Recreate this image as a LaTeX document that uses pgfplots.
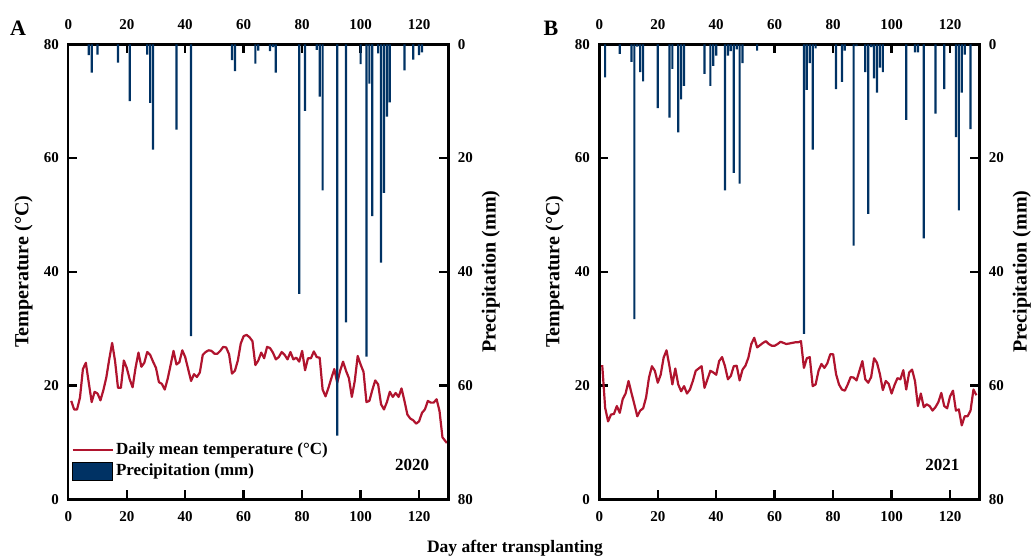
\documentclass[border=0pt]{standalone}
\usepackage{fontspec}
\setmainfont{Liberation Serif}
\usepackage{pgfplots}
\pgfplotsset{compat=1.18}
\usepackage{pgfplotstable}

\definecolor{tred}{RGB}{176,20,46}
\definecolor{pblue}{RGB}{0,50,100}

\pgfplotstableread{
day temp
1 17.3
2 15.8
3 15.8
4 17.9
5 22.9
6 24.0
7 20.5
8 17.1
9 18.9
10 18.6
11 17.4
12 19.2
13 21.4
14 24.6
15 27.5
16 24.3
17 19.6
18 19.6
19 24.4
20 23.1
21 21.1
22 19.7
23 23.1
24 25.8
25 23.3
26 24.0
27 25.9
28 25.4
29 24.2
30 23.1
31 20.6
32 20.3
33 19.3
34 21.2
35 23.6
36 26.1
37 23.7
38 24.1
39 26.2
40 25.0
41 22.9
42 20.8
43 22.0
44 21.5
45 22.3
46 25.4
47 25.9
48 26.2
49 26.1
50 25.6
51 25.6
52 26.1
53 26.8
54 26.7
55 25.5
56 22.1
57 22.6
58 24.4
59 27.4
60 28.7
61 28.9
62 28.5
63 27.8
64 23.6
65 24.4
66 25.8
67 24.8
68 26.8
69 26.6
70 25.8
71 24.6
72 25.0
73 25.9
74 25.4
75 24.6
76 25.9
77 24.6
78 24.9
79 24.2
80 26.1
81 22.7
82 24.8
83 24.8
84 26.0
85 25.0
86 24.9
87 19.3
88 18.1
89 19.6
90 21.3
91 22.9
92 20.5
93 22.6
94 24.2
95 22.6
96 21.3
97 18.0
98 20.8
99 25.2
100 23.7
101 22.4
102 17.1
103 17.3
104 19.2
105 20.9
106 20.2
107 16.7
108 15.8
109 17.1
110 18.9
111 18.0
112 18.7
113 18.0
114 19.5
115 17.3
116 14.9
117 14.2
118 13.9
119 13.3
120 13.7
121 15.2
122 15.8
123 17.3
124 17.0
125 17.0
126 17.6
127 15.5
128 10.9
129.5 9.9
}\tempA

\pgfplotstableread{
day prec
7 1.9
8 5.0
10 1.8
17 3.2
21 10.0
27 1.8
28 10.3
29 18.5
37 15.0
42 51.3
56 2.8
57 4.7
64 3.4
65 1.1
69 1.2
70 0.5
71 5.0
79 43.9
81 11.7
85 1.0
86 9.2
87 25.7
92 68.8
95 48.9
100 3.5
102 54.9
103 6.9
104 30.2
106 1.6
107 38.4
108 26.1
109 12.7
110 10.2
115 4.6
118 2.7
120 1.9
121 1.4
}\precA

\pgfplotstableread{
day temp
1 23.6
2 16.1
3 13.7
4 14.9
5 15.0
6 16.4
7 15.2
8 17.6
9 18.6
10 20.8
11 18.7
12 16.7
13 14.6
14 15.6
15 16.0
16 17.9
17 21.4
18 23.4
19 22.6
20 20.5
21 21.9
22 24.9
23 26.2
24 23.4
25 20.2
26 23.0
27 20.2
28 19.0
29 19.9
30 18.6
31 19.3
32 20.8
33 22.6
34 23.0
35 23.4
36 19.6
37 21.1
38 22.6
39 22.3
40 21.9
41 24.3
42 25.0
43 23.4
44 21.1
45 21.7
46 23.4
47 23.5
48 20.9
49 22.8
50 23.5
51 24.9
52 27.3
53 28.4
54 26.7
55 27.1
56 27.5
57 27.8
58 27.3
59 27.0
60 27.0
61 27.3
62 27.7
63 27.5
64 27.3
65 27.4
66 27.5
67 27.6
68 27.6
69 27.8
70 23.1
71 24.8
72 25.0
73 19.9
74 20.2
75 22.6
76 23.8
77 23.1
78 23.9
79 25.5
80 25.5
81 22.0
82 20.2
83 19.3
84 19.1
85 20.2
86 21.5
87 21.4
88 20.9
89 22.6
90 24.3
91 21.1
92 20.5
93 21.5
94 24.8
95 24.0
96 22.0
97 19.2
98 20.8
99 20.3
100 18.6
101 20.1
102 21.3
103 21.1
104 22.7
105 19.3
106 22.3
107 22.8
108 20.8
109 16.4
110 18.6
111 16.2
112 16.7
113 16.4
114 15.6
115 16.2
116 17.1
117 18.7
118 16.4
119 16.0
120 18.1
121 19.1
122 15.6
123 15.8
124 13.0
125 14.6
126 14.6
127 15.6
128 19.3
129 18.3
}\tempB

\pgfplotstableread{
day prec
2 5.8
7 1.7
11 3.1
12 48.3
13 0.4
14 4.9
15 6.5
20 11.2
24 12.9
25 4.3
27 15.5
28 9.7
29 7.3
36 5.2
38 7.3
39 3.8
40 2.0
43 25.7
44 2.0
45 1.2
46 22.6
47 0.9
48 24.5
49 3.3
54 1.1
70 50.9
71 8.0
72 3.3
73 18.5
74 0.7
81 7.9
83 6.6
84 1.1
87 35.4
88 0.3
91 4.9
92 29.8
93 0.5
94 6.0
95 8.5
96 4.1
97 4.9
105 13.3
108 1.4
109 1.4
111 34.1
115 12.2
118 7.9
122 16.3
123 29.2
124 8.5
125 1.8
127 14.9
}\precB

\pgfplotsset{
  base/.style={width=380pt,height=455pt,scale only axis,
    xmin=0,xmax=130,ymin=0,ymax=80,
    xtick={0,20,...,120},ytick={0,20,...,80},
    axis line style={line width=2.4pt},
    every tick/.style={black,line width=2.4pt},
    major tick length=9pt, tick align=inside,
    /pgf/number format/assume math mode=true,
    tick label style={font=\fontsize{15}{18}\selectfont\bfseries},
    label style={font=\fontsize{20}{23}\selectfont\bfseries},
    clip=false},
  linelegend/.style={legend image code/.code={\draw[##1] (0pt,0pt) -- (40pt,0pt);}},
  boxlegend/.style={legend image code/.code={\fill[##1] (0pt,-9pt) rectangle (40pt,9pt);}},
  tempaxis/.style={base, xtick pos=left, ytick pos=left, xticklabel pos=left, yticklabel pos=left,
    xticklabel style={yshift=-9pt}, yticklabel style={xshift=-6pt},
    ylabel={Temperature (°C)},
    ylabel style={at={(axis description cs:-0.118,0.5)},anchor=center}},
  topaxis/.style={base, hide y axis, axis x line*=top, xticklabel pos=right,
    xticklabel style={yshift=11pt}},
  precaxis/.style={base, hide x axis, axis y line*=right, y dir=reverse,
    yticklabel style={xshift=6pt},
    ylabel={Precipitation (mm)},
    ylabel style={at={(axis description cs:1.112,0.5)},anchor=center}},
}

\begin{document}
\begin{tikzpicture}
\useasboundingbox (-68.3pt,-58.7pt) rectangle (962.7pt,499.3pt);

% ---------- Panel A ----------
\begin{axis}[tempaxis, at={(0pt,0pt)}, anchor=south west,
  legend style={at={(axis description cs:0.008,0.13)},anchor=north west,
    draw=none,fill=none,font=\fontsize{17}{20}\selectfont\bfseries,
    row sep=3pt,cells={anchor=west},inner sep=0pt,nodes={inner sep=2.5pt}}]
\addplot[tred, line width=2.2pt, line join=round, forget plot] table[x=day,y=temp]{\tempA};
\addlegendimage{linelegend, tred, line width=2pt}
\addlegendentry{Daily mean temperature (°C)}
\addlegendimage{boxlegend, fill=pblue}
\addlegendentry{Precipitation (mm)}
\node[font=\fontsize{17}{20}\selectfont\bfseries] at (axis cs:117.6,6.1) {2020};
\end{axis}
\begin{axis}[topaxis, at={(0pt,0pt)}, anchor=south west]
\addplot[draw=none] coordinates {(0,0)};
\end{axis}
\begin{axis}[precaxis, at={(0pt,0pt)}, anchor=south west]
\addplot[ybar, bar width=0.75, fill=pblue, draw=none] table[x=day,y=prec]{\precA};
\end{axis}

% ---------- Panel B ----------
\begin{axis}[tempaxis, at={(531pt,0pt)}, anchor=south west]
\addplot[tred, line width=2.2pt, line join=round] table[x=day,y=temp]{\tempB};
\node[font=\fontsize{17}{20}\selectfont\bfseries] at (axis cs:117.4,6.1) {2021};
\end{axis}
\begin{axis}[topaxis, at={(531pt,0pt)}, anchor=south west]
\addplot[draw=none] coordinates {(0,0)};
\end{axis}
\begin{axis}[precaxis, at={(531pt,0pt)}, anchor=south west]
\addplot[ybar, bar width=0.75, fill=pblue, draw=none] table[x=day,y=prec]{\precB};
\end{axis}

\node[font=\fontsize{22}{24}\selectfont\bfseries] at (-50.3pt,471.3pt) {A};
\node[font=\fontsize{22}{24}\selectfont\bfseries] at (482.7pt,471.3pt) {B};
\node[font=\fontsize{17.5}{20}\selectfont\bfseries] at (446.7pt,-48.7pt) {Day after transplanting};
\end{tikzpicture}
\end{document}
